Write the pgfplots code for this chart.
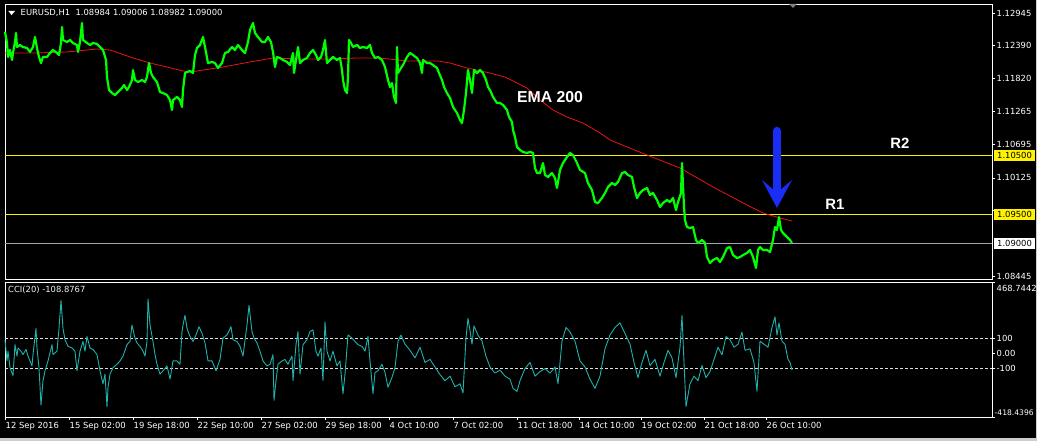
\documentclass[border=0pt]{standalone}
\usepackage{pgfplots}
\pgfplotsset{compat=1.18}
\usepackage{fontspec}
\setmainfont{DejaVu Sans}
\newfontfamily\annfont{Liberation Sans}
\definecolor{mtgreen}{RGB}{0,255,0}
\definecolor{emared}{RGB}{235,20,20}
\definecolor{cciteal}{RGB}{32,178,170}
\definecolor{arrowblue}{RGB}{25,45,245}
\definecolor{lvlgray}{RGB}{165,165,175}
\definecolor{framegray}{RGB}{205,205,205}

\pgfplotstableread{
x y
0 1.12625
2 1.12432
3 1.12192
5 1.12312
7 1.12141
8 1.12261
10 1.12449
11 1.12603
12 1.12363
15 1.12397
18 1.12363
22 1.12346
25 1.12278
28 1.12363
30 1.12534
32 1.12346
34 1.12192
36 1.12089
38 1.12192
42 1.12192
45 1.12261
48 1.12312
52 1.12261
54 1.12226
56 1.12432
57 1.12705
58 1.12483
62 1.12449
65 1.12483
68 1.12432
72 1.12397
73 1.12278
75 1.12449
77 1.12774
78 1.12483
82 1.12432
85 1.12397
88 1.12432
92 1.12415
95 1.12363
98 1.12312
101 1.12141
102 1.11850
104 1.11627
107 1.11576
110 1.11542
113 1.11593
117 1.11662
119 1.11713
122 1.11627
124 1.11679
127 1.11799
128 1.11970
130 1.11799
133 1.11764
137 1.11799
140 1.11764
142 1.11850
144 1.12089
146 1.11918
148 1.11850
152 1.11764
155 1.11593
158 1.11576
162 1.11542
165 1.11456
167 1.11285
168 1.11456
172 1.11508
175 1.11456
177 1.11337
178 1.11627
180 1.11918
182 1.11935
185 1.11953
188 1.11918
190 1.12226
192 1.12346
195 1.12397
198 1.12534
200 1.12363
203 1.12089
207 1.12107
210 1.12089
213 1.12004
217 1.12089
220 1.12261
223 1.12278
227 1.12363
230 1.12312
233 1.12397
237 1.12312
240 1.12261
243 1.12449
245 1.12654
248 1.12774
250 1.12603
253 1.12534
257 1.12449
260 1.12449
263 1.12534
266 1.12449
268 1.12278
270 1.12021
272 1.12192
275 1.12175
278 1.12141
282 1.12107
285 1.12055
288 1.12261
289 1.11918
291 1.12141
293 1.12363
295 1.12089
298 1.12141
302 1.12175
305 1.12261
308 1.12312
311 1.12226
313 1.12141
316 1.12192
318 1.12312
320 1.12483
322 1.12089
325 1.12141
328 1.12192
332 1.12141
335 1.12175
337 1.11970
338 1.11799
340 1.11627
342 1.11576
343 1.11850
344 1.12483
346 1.12432
348 1.12363
352 1.12397
355 1.12346
358 1.12363
362 1.12346
365 1.12397
367 1.12261
370 1.12175
373 1.12192
377 1.12141
380 1.12021
383 1.11799
385 1.11679
387 1.11747
389 1.11508
391 1.11405
392 1.12363
393 1.11918
396 1.12004
398 1.12055
402 1.12192
405 1.12261
408 1.12226
412 1.12175
415 1.12089
417 1.11918
418 1.12141
422 1.12089
425 1.12089
428 1.12055
432 1.12004
434 1.11918
437 1.11799
439 1.11679
442 1.11576
445 1.11491
448 1.11337
452 1.11234
455 1.11114
457 1.11063
459 1.11285
461 1.11576
463 1.11970
465 1.11799
467 1.11576
469 1.11970
472 1.11918
475 1.11970
478 1.11918
481 1.11799
483 1.11679
486 1.11593
488 1.11508
492 1.11405
495 1.11405
498 1.11371
502 1.11285
504 1.11165
507 1.11080
508 1.10943
510 1.10823
512 1.10652
515 1.10601
518 1.10567
522 1.10550
525 1.10567
528 1.10550
530 1.10293
532 1.10207
535 1.10207
538 1.10378
540 1.10173
543 1.10139
547 1.10207
550 1.10122
552 1.09951
555 1.10259
558 1.10378
562 1.10481
565 1.10550
568 1.10515
572 1.10378
575 1.10259
580 1.10207
583 1.10036
587 1.09916
590 1.09711
593 1.09694
597 1.09780
600 1.09865
603 1.09968
607 1.10036
610 1.10002
613 1.10053
617 1.10207
620 1.10224
623 1.10173
627 1.10139
629 1.09968
632 1.09780
635 1.09865
638 1.09916
642 1.09951
645 1.09831
648 1.09865
652 1.09745
655 1.09626
658 1.09694
662 1.09745
665 1.09711
668 1.09780
671 1.09574
673 1.09711
676 1.09865
677 1.10378
679 1.09626
680 1.09403
682 1.09283
685 1.09266
688 1.09283
691 1.09061
693 1.09010
697 1.09061
700 1.09010
702 1.08770
705 1.08667
708 1.08719
712 1.08753
715 1.08685
718 1.08770
722 1.08924
725 1.08941
728 1.08804
732 1.08753
735 1.08770
738 1.08804
742 1.08839
745 1.08890
748 1.08770
751 1.08582
753 1.08890
755 1.08941
758 1.08890
762 1.08890
765 1.08856
768 1.09061
770 1.09283
772 1.09232
774 1.09454
776 1.09232
778 1.09181
782 1.09112
785 1.09061
787 1.09010
}\pricetable

\pgfplotstableread{
x y
0 1.12261
30 1.12261
62 1.12278
92 1.12329
105 1.12312
128 1.12175
145 1.12089
162 1.12021
178 1.11953
185 1.11935
218 1.12021
245 1.12107
268 1.12175
295 1.12158
325 1.12158
352 1.12175
375 1.12175
402 1.12124
433 1.12124
445 1.12089
462 1.12004
485 1.11918
500 1.11850
512 1.11747
522 1.11662
535 1.11456
548 1.11285
562 1.11165
578 1.11063
595 1.10892
605 1.10772
642 1.10515
675 1.10293
708 1.09968
742 1.09660
758 1.09523
775 1.09437
787 1.09386
}\ematable

\pgfplotstableread{
x y
0 89
2 -50
3 14
5 -94
8 -147
10 57
12 -18
13 35
16 14
18 -8
21 25
23 -18
27 -83
28 -8
31 164
32 35
34 -94
36 -341
38 -180
40 -115
43 -50
47 57
48 -8
52 14
54 164
56 347
58 164
60 89
63 46
67 35
70 14
72 -115
75 14
78 78
80 14
82 111
85 35
88 25
92 -8
95 -115
98 -201
100 -137
102 -352
103 -223
105 -137
108 -94
112 -72
115 -50
118 -18
122 57
125 78
127 186
130 100
132 68
135 46
138 14
140 -18
142 78
143 358
145 186
148 78
150 -8
152 -72
155 -137
158 -115
162 -83
165 -169
168 -50
172 -50
175 -72
177 143
178 186
180 250
182 164
185 111
188 78
191 121
194 175
197 132
200 68
203 -50
207 -50
211 -115
215 -40
218 100
222 121
226 175
228 89
232 78
235 46
238 -18
242 186
244 315
247 143
249 100
252 68
255 14
258 -50
262 -83
265 -72
268 -8
269 -309
271 -180
273 -72
277 -50
280 -40
283 -72
287 -18
288 -180
291 57
293 143
295 -137
298 57
302 89
305 143
308 154
311 14
313 -18
316 35
318 -180
320 207
322 14
325 -50
328 14
332 -83
335 -50
338 -266
340 -137
343 121
347 100
350 78
353 57
357 46
360 14
363 111
365 -50
368 -266
370 -126
373 -115
377 -72
380 -126
383 -223
387 -158
390 -94
393 78
396 120
400 60
405 20
410 -30
415 40
420 -60
425 -40
430 -90
435 -140
440 -180
445 -150
450 -220
455 -200
458 -260
461 100
463 230
465 150
467 60
469 180
473 120
477 80
481 -20
485 -90
490 -130
495 -110
500 -150
505 -170
508 -230
512 -250
515 -180
520 -100
525 -60
530 -150
535 -120
540 -100
545 -130
550 -90
553 -200
557 80
561 170
565 140
570 80
575 -50
580 -90
585 -170
590 -230
595 -150
600 30
605 120
610 170
615 200
620 130
625 60
629 -60
633 -160
637 -60
641 20
645 -80
650 -40
655 -150
659 -60
663 20
667 -30
671 -160
675 40
677 250
679 -60
681 -350
685 -200
689 -150
693 -180
697 -80
701 -160
705 -120
709 -40
713 40
717 -10
721 110
725 90
729 40
733 60
737 140
740 20
745 30
749 -60
752 -250
755 80
759 60
763 40
767 170
770 240
772 120
774 200
777 80
780 60
783 -40
785 -60
787 -109
}\ccitable

\begin{document}
\begin{tikzpicture}[font=\fontsize{8.4}{9.5}\selectfont]
\fill[black] (0,0) rectangle (1037pt,441pt);
\fill[framegray] (0,0) rectangle (1037pt,3pt);
\fill[framegray] (1035.5pt,0) rectangle (1037pt,441pt);

% ---------- price panel ----------
\begin{axis}[
  at={(5pt,162pt)}, anchor=south west,
  width=987pt, height=275pt, scale only axis,
  xmin=0, xmax=987, ymin=1.08394, ymax=1.13099,
  clip=false,
  axis line style={white, line width=0.8pt},
  xtick=\empty,
  ytick={1.08445,1.09570,1.10125,1.10695,1.11265,1.11820,1.12390,1.12945},
  yticklabels={1.08445,,1.10125,1.10695,1.11265,1.11820,1.12390,1.12945},
  ytick pos=right, yticklabel pos=right,
  tick align=outside, major tick length=3pt,
  tick style={white, line width=0.6pt},
  yticklabel style={text=white, anchor=west, inner sep=0pt, xshift=1.5pt,
    font=\fontsize{8.4}{9.5}\selectfont},
]
\addplot[yellow, line width=0.9pt] coordinates {(0,1.105) (987,1.105)};
\addplot[yellow, line width=0.9pt] coordinates {(0,1.095) (987,1.095)};
\addplot[lvlgray, line width=0.8pt] coordinates {(0,1.090) (987,1.090)};
\addplot[emared, line width=0.8pt] table[x=x,y=y] {\ematable};
\addplot[mtgreen, line width=2.2pt, line join=round] table[x=x,y=y] {\pricetable};

% blue arrow
\draw[arrowblue, line width=8.5pt, line cap=round] (axis cs:772,1.10926) -- (axis cs:772,1.09900);
\fill[arrowblue] (axis cs:757,1.10088) -- (axis cs:768,1.09930) -- (axis cs:776,1.09930)
   -- (axis cs:787,1.10088) -- (axis cs:772,1.09608) -- cycle;

\node[text=white, font=\annfont\bfseries\fontsize{15.8}{18}\selectfont] at (axis cs:545,1.11508) {EMA 200};
\node[text=white, font=\annfont\bfseries\fontsize{14.9}{17}\selectfont] at (axis cs:895,1.10721) {R2};
\node[text=white, font=\annfont\bfseries\fontsize{14.9}{17}\selectfont] at (axis cs:830,1.09677) {R1};

\node[fill=yellow, text=black, anchor=west, inner xsep=3pt, inner ysep=0pt, minimum height=11pt, xshift=2pt] at (axis cs:987,1.105) {1.10500};
\node[fill=yellow, text=black, anchor=west, inner xsep=3pt, inner ysep=0pt, minimum height=11pt, xshift=2pt] at (axis cs:987,1.095) {1.09500};
\node[fill=white, text=black, anchor=west, inner xsep=3pt, inner ysep=0pt, minimum height=11pt, xshift=2pt] at (axis cs:987,1.090) {1.09000};
\end{axis}

% ---------- CCI panel ----------
\begin{axis}[
  at={(5pt,24pt)}, anchor=south west,
  width=987pt, height=135pt, scale only axis,
  xmin=0, xmax=987, ymin=-418.4396, ymax=468.7442,
  clip=false,
  axis line style={white, line width=0.8pt},
  xtick={0,64,128,192,256,320,384,448,512,574,636,699,761},
  xticklabels={12 Sep 2016,15 Sep 02:00,19 Sep 18:00,22 Sep 10:00,27 Sep 02:00,29 Sep 18:00,4 Oct 10:00,7 Oct 02:00,11 Oct 18:00,14 Oct 10:00,19 Oct 02:00,21 Oct 18:00,26 Oct 10:00},
  xtick pos=bottom,
  xticklabel style={text=white, anchor=north west, inner sep=0pt, xshift=0.5pt, yshift=-2pt,
    font=\fontsize{8.4}{9.5}\selectfont},
  ytick={-100,0,100},
  yticklabels={-100,0.00,100},
  extra y ticks={-418.4396,468.7442},
  extra y tick labels={},
  ytick pos=right, yticklabel pos=right,
  tick align=outside, major tick length=3pt,
  tick style={white, line width=0.6pt},
  yticklabel style={text=white, anchor=west, inner sep=0pt, xshift=1.5pt,
    font=\fontsize{8.4}{9.5}\selectfont},
]
\addplot[white!75!gray, line width=0.6pt, dash pattern=on 3pt off 2pt] coordinates {(0,100) (987,100)};
\addplot[white!75!gray, line width=0.6pt, dash pattern=on 3pt off 2pt] coordinates {(0,-100) (987,-100)};
\addplot[cciteal, line width=0.9pt, line join=round] table[x=x,y=y] {\ccitable};
\node[text=white, anchor=north west, inner sep=0pt, xshift=4.5pt, yshift=-3pt] at (rel axis cs:1,1) {468.7442};
\node[text=white, anchor=south west, inner sep=0pt, xshift=2.5pt, yshift=1pt, font=\fontsize{7.6}{9}\selectfont] at (rel axis cs:1,0) {-418.4396};
\node[text=white!90!gray, anchor=west, inner sep=0pt] at (rel axis cs:0,1) [xshift=3pt, yshift=-8pt] {CCI(20) -108.8767};
\end{axis}

% header
\fill[white] (8.3pt,430pt) -- (15pt,430pt) -- (11.65pt,426pt) -- cycle;
\node[text=white, anchor=west, inner sep=0pt] at (20.5pt,428pt) {EURUSD,H1\ \ 1.08984 1.09006 1.08982 1.09000};
\fill[gray] (789pt,437pt) -- (797pt,437pt) -- (793pt,433pt) -- cycle;

\pgfresetboundingbox
\useasboundingbox (0,0) rectangle (1037pt,441pt);
\end{tikzpicture}
\end{document}
